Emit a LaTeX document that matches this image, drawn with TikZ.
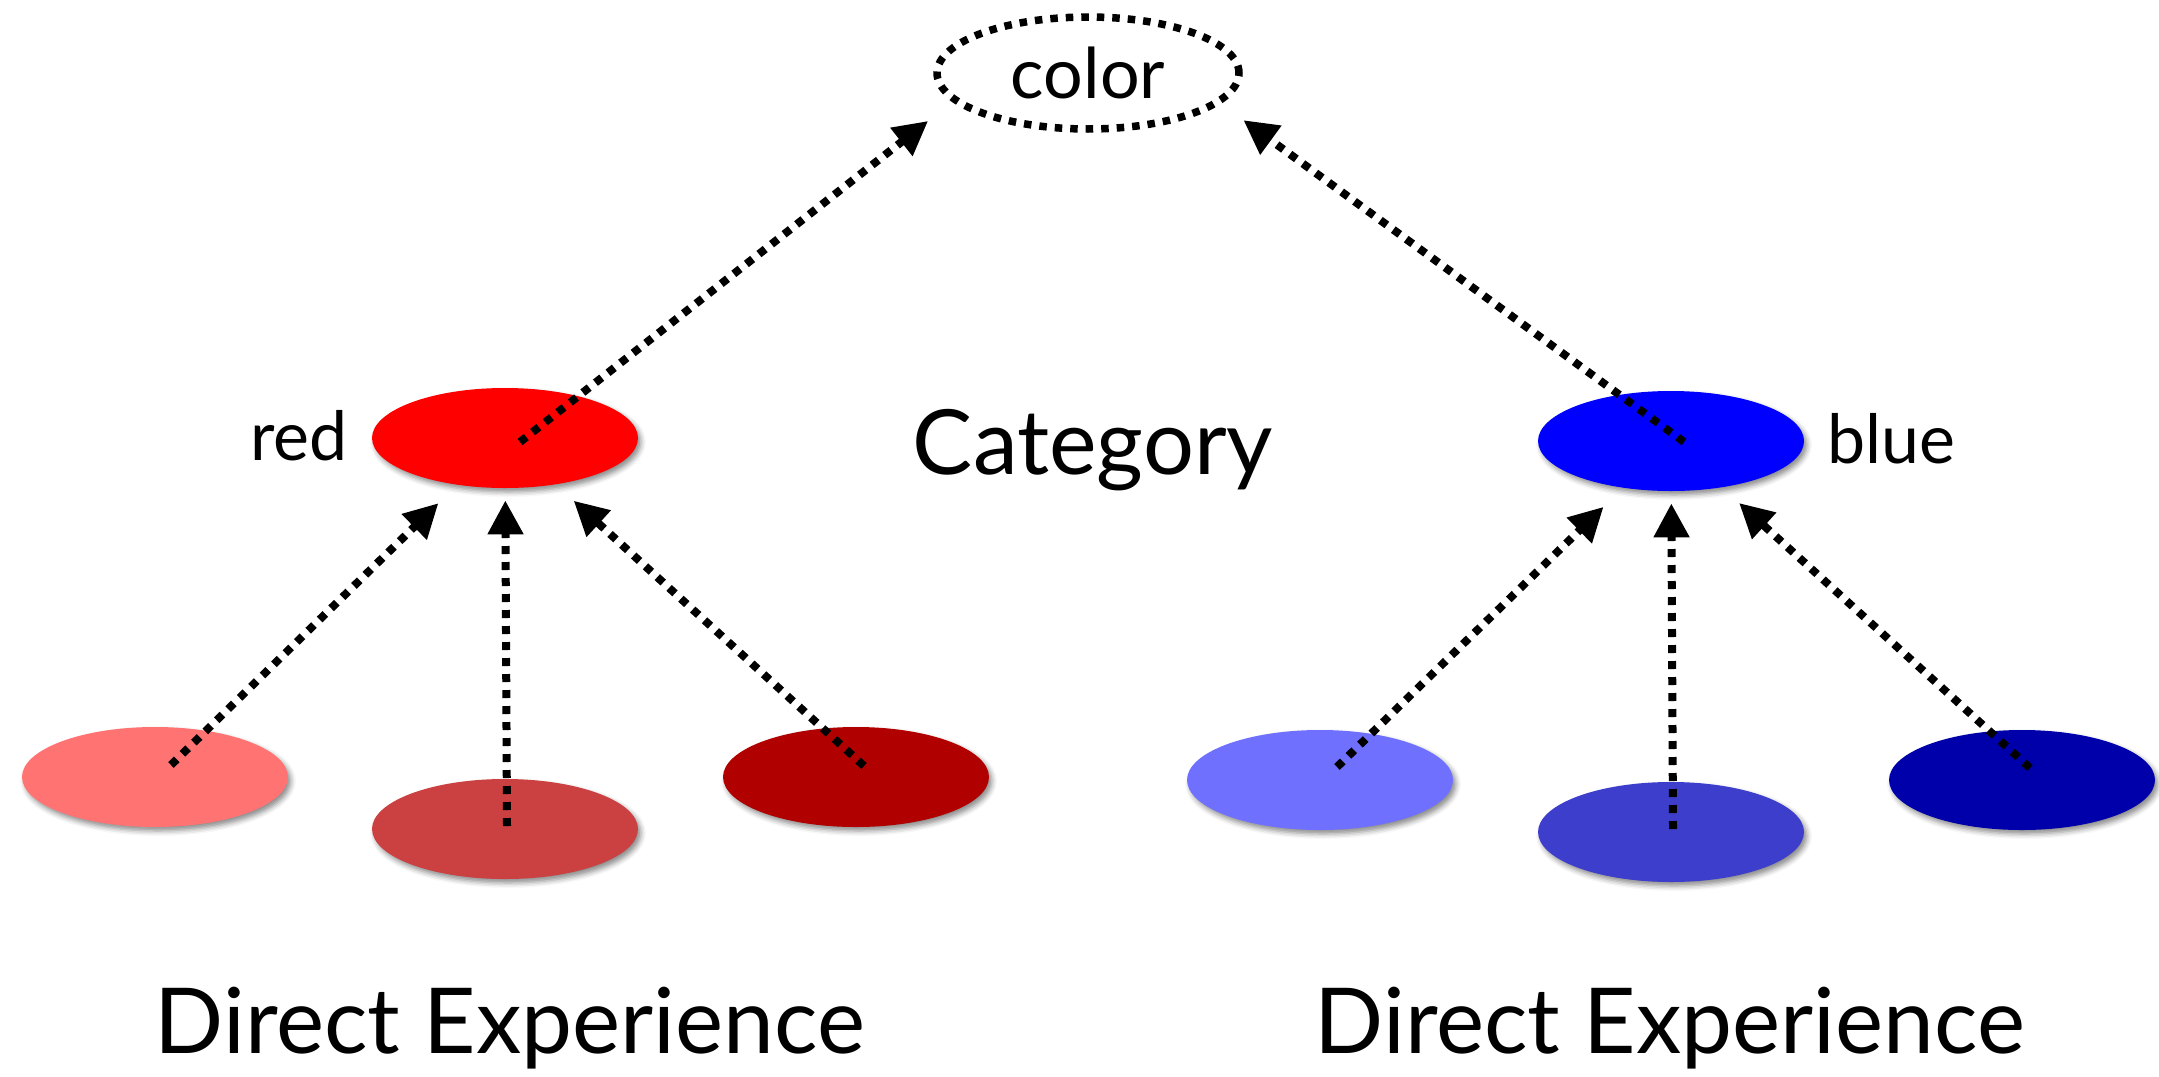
\documentclass[tikz,border=0pt]{standalone}
\usepackage{fontspec}
\setmainfont{Lato}
\usetikzlibrary{arrows.meta,shapes.geometric,shadows.blur,calc}

\definecolor{redcat}{RGB}{255,0,0}
\definecolor{redlight}{RGB}{255,115,115}
\definecolor{redmid}{RGB}{203,64,64}
\definecolor{reddark}{RGB}{176,0,0}
\definecolor{bluecat}{RGB}{0,0,255}
\definecolor{bluelight}{RGB}{112,112,255}
\definecolor{bluemid}{RGB}{62,62,204}
\definecolor{bluedark}{RGB}{0,0,170}

\tikzset{every picture/.style={line width=0.75pt}}
\tikzset{
  blob/.style={ellipse, minimum width=266pt, minimum height=100pt, inner sep=0pt,
    blur shadow={shadow xshift=3pt, shadow yshift=-4pt, shadow blur radius=5pt,
      shadow opacity=45}},
  topbox/.style={ellipse, draw, line width=7.5pt, dash pattern=on 7.5pt off 8pt,
    minimum width=302pt, minimum height=112pt, inner sep=0pt,
    font=\fontsize{70}{84}\selectfont},
  link/.style={line width=8pt, dash pattern=on 8pt off 8pt,
    -{Triangle[length=34pt,width=34pt]}},
  lbl/.style={inner sep=0pt, font=\fontsize{68}{80}\selectfont},
  catlbl/.style={inner sep=0pt, font=\fontsize{90}{108}\selectfont},
  explbl/.style={inner sep=0pt, font=\fontsize{91}{110}\selectfont}
}

\begin{document}
\begin{tikzpicture}[x=1pt,y=1pt,yscale=-1,xscale=1]
\useasboundingbox (0,0) rectangle (2159,1076);

% top
\node[topbox] (color) at (1088,73) {color};

% categories
\node[blob, fill=redcat] (red) at (505,438) {};
\node[blob, fill=bluecat] (blue) at (1671,441) {};
\node[lbl, anchor=base east] (redlbl) at (348,460) {red};
\node[lbl, anchor=base west] (bluelbl) at (1827,463) {blue};
\node[catlbl, anchor=base] (catname) at (1093,474) {Category};

% direct experience
\node[blob, fill=redlight] (rl) at (155,777) {};
\node[blob, fill=redmid] (rm) at (505,829) {};
\node[blob, fill=reddark] (rd) at (856,777) {};
\node[blob, fill=bluelight] (bl) at (1320,780) {};
\node[blob, fill=bluemid] (bm) at (1671,832) {};
\node[blob, fill=bluedark] (bd) at (2022,780) {};

\node[explbl, anchor=base] (redexp) at (510,1053) {Direct Experience};
\node[explbl, anchor=base] (blueexp) at (1670,1053) {Direct Experience};

% links up
\draw[link, shorten >=26pt] ($(rl.center)+(16,-12)$) -- (red);
\draw[link, shorten >=12pt] ($(rm.center)+(2,-3)$) -- (red);
\draw[link, shorten >=24pt] ($(rd.center)+(8,-11)$) -- (red);
\draw[link, shorten >=27pt] ($(bl.center)+(17,-13)$) -- (blue);
\draw[link, shorten >=12pt] ($(bm.center)+(2,-3)$) -- (blue);
\draw[link, shorten >=23pt] ($(bd.center)+(8,-12)$) -- (blue);

\draw[link, shorten >=31pt] ($(red.center)+(15,4)$) -- (color.192);
\draw[link, shorten >=28pt] ($(blue.center)+(13,1)$) -- (color.347);

\end{tikzpicture}
\end{document}
